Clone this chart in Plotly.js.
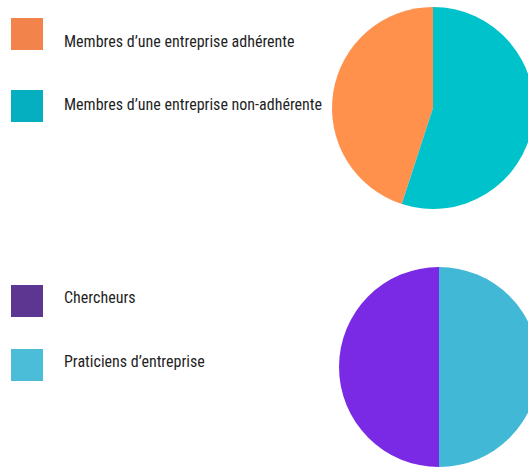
<!DOCTYPE html>
<html>
<head>
<meta charset="utf-8">
<script src="https://cdn.plot.ly/plotly-3.0.1.min.js"></script>
<style>
html,body{margin:0;padding:0;overflow:hidden;background:#fff;width:528px;height:467px;}
#chart{width:560px;height:467px;}
</style>
</head>
<body>
<div id="chart"></div>
<script>
// Data
var membresLabels = ["Membres d\u2019une entreprise adh\u00e9rente", "Membres d\u2019une entreprise non-adh\u00e9rente"];
var membresValues = [45, 55];
var profilLabels = ["Chercheurs", "Praticiens d\u2019entreprise"];
var profilValues = [50, 50];

// Styles
var membresPieColors = ["#FF914D", "#00C2CB"];
var membresKeyColors = ["#F2834A", "#06AFBF"];
var profilPieColors = ["#7A2AE4", "#41B8D5"];
var profilKeyColors = ["#5C3690", "#4BBDD9"];

var W = 560, H = 467;
function px(x){ return x / W; }
function py(y){ return 1 - y / H; }
function sum(a){ return a.reduce(function(s, v){ return s + v; }, 0); }
// first slice ends at 12 o'clock (drawn on the left side, going clockwise)
function startAngle(vals){ return 360 * (1 - vals[0] / sum(vals)); }

var FONT = "'Roboto Condensed', 'Liberation Sans Narrow', 'DejaVu Sans Condensed', Roboto, sans-serif";

var traces = [
  {
    type: "pie", labels: membresLabels, values: membresValues, sort: false,
    direction: "clockwise", rotation: startAngle(membresValues),
    marker: {colors: membresPieColors, line: {width: 0}},
    textinfo: "none", hoverinfo: "label+percent", showlegend: false,
    domain: {x: [px(332), px(534)], y: [py(209), py(7)]}
  },
  {
    type: "pie", labels: profilLabels, values: profilValues, sort: false,
    direction: "clockwise", rotation: startAngle(profilValues),
    marker: {colors: profilPieColors, line: {width: 0}},
    textinfo: "none", hoverinfo: "label+percent", showlegend: false,
    domain: {x: [px(339), px(539)], y: [0, py(267)]}
  }
];

var shapes = [], annotations = [];
function addKey(labels, colors, ySquares, yTexts){
  for (var i = 0; i < labels.length; i++){
    shapes.push({type: "rect", xref: "paper", yref: "paper",
      x0: px(11), x1: px(43), y0: py(ySquares[i] + 32), y1: py(ySquares[i]),
      fillcolor: colors[i], line: {width: 0}});
    annotations.push({xref: "paper", yref: "paper", x: px(62), y: py(yTexts[i]),
      xanchor: "left", yanchor: "middle", showarrow: false, text: labels[i],
      font: {family: FONT, size: 16, color: "#1f1f1f"}});
  }
}
addKey(membresLabels, membresKeyColors, [18, 90], [41, 104]);
addKey(profilLabels, profilKeyColors, [285, 349], [297, 361]);

var layout = {
  width: W, height: H,
  margin: {l: 0, r: 0, t: 0, b: 0},
  paper_bgcolor: "#fff",
  showlegend: false,
  shapes: shapes,
  annotations: annotations
};

Plotly.newPlot("chart", traces, layout, {displayModeBar: false, staticPlot: true});
</script>
</body>
</html>
